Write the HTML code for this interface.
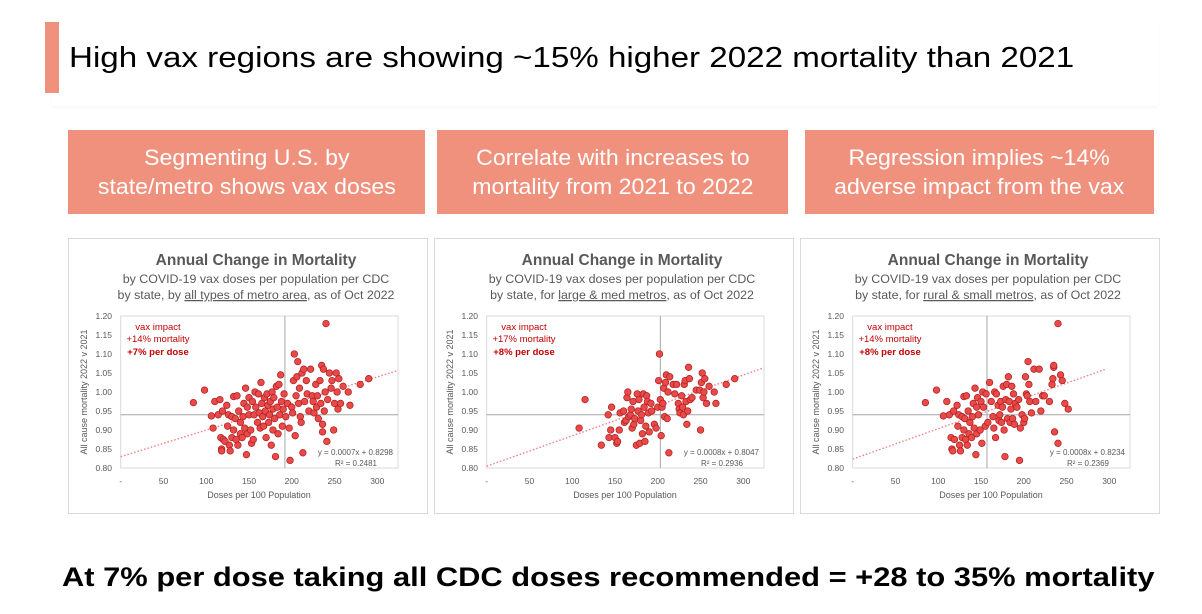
<!DOCTYPE html>
<html><head><meta charset="utf-8">
<style>
html,body{margin:0;padding:0;background:#fff;}
body{width:1202px;height:614px;position:relative;overflow:hidden;font-family:"Liberation Sans",sans-serif;}
.accent{position:absolute;left:45px;top:22px;width:14px;height:71px;background:#EF917C;}
.hdr{position:absolute;left:52px;top:20px;width:1106px;height:86px;box-shadow:0 2px 3px rgba(0,0,0,0.04);}
.title{position:absolute;left:69px;top:42px;font-size:29px;color:#000;white-space:nowrap;transform:scaleX(1.143);transform-origin:0 0;}
.box{position:absolute;top:130px;height:84px;background:#EF917C;color:#fff;text-align:center;display:flex;align-items:center;justify-content:center;}
.box span{display:inline-block;font-size:22px;line-height:29px;transform:scaleX(1.05);white-space:nowrap;}
.bottom{position:absolute;left:62px;top:562px;font-size:27px;color:#000;white-space:nowrap;font-weight:bold;transform:scaleX(1.143);transform-origin:0 0;}
svg{position:absolute;left:0;top:0;}
</style></head>
<body>
<div class="hdr"></div>
<div class="accent"></div>
<div class="title">High vax regions are showing ~15% higher 2022 mortality than 2021</div>
<div class="box" style="left:68px;width:357px;"><span>Segmenting U.S. by<br>state/metro shows vax doses</span></div>
<div class="box" style="left:437px;width:351px;"><span>Correlate with increases to<br>mortality from 2021 to 2022</span></div>
<div class="box" style="left:805px;width:349px;"><span>Regression implies ~14%<br>adverse impact from the vax</span></div>
<div class="bottom">At 7% per dose taking all CDC doses recommended = +28 to 35% mortality</div>
<svg id="charts" width="1202" height="614"></svg>
<script>
const yTicks = [0.80,0.85,0.90,0.95,1.00,1.05,1.10,1.15,1.20];
const yTickLabels = ["0.80","0.85","0.90","0.95","1.00","1.05","1.10","1.15","1.20"];
const xTicks = [0,50,100,150,200,250,300];
const xTickLabels = ["-","50","100","150","200","250","300"];
const subtitles2 = ["all types of metro area","large & med metros","rural & small metros"];
const impacts = ["+14% mortality","+17% mortality","+14% mortality"];
const perDose = ["+7% per dose","+8% per dose","+8% per dose"];
const equations = ["y = 0.0007x + 0.8298","y = 0.0008x + 0.8047","y = 0.0008x + 0.8234"];
const rSquared = ["0.2481","0.2936","0.2369"];
const slopes = [0.0007,0.0008,0.0008];
const intercepts = [0.8298,0.8047,0.8234];
const trendEnd = [324,324,295];
const refX = [192,203,157];
const refY = [0.94,0.94,0.94];
const chart1X = [85,98,106,108,110,114,116,117,118,118,119,120,122,124,125,126,127,128,130,130,132,132,134,135,136,137,138,140,140,142,143,144,145,146,147,148,148,150,150,152,153,154,155,156,157,158,160,161,162,163,164,165,166,167,168,169,170,171,172,173,174,175,176,177,178,178,179,180,181,182,183,184,185,186,187,188,189,190,191,193,195,197,198,200,201,202,203,204,205,206,207,208,209,210,211,212,213,214,215,217,218,220,222,224,225,226,228,229,230,231,233,234,235,236,236,237,238,239,240,241,242,244,246,247,249,250,252,253,254,255,257,260,266,268,280,290];
const chart1Y = [0.972,1.005,0.937,0.905,0.975,0.94,0.98,0.88,0.85,0.845,0.95,0.875,0.87,0.965,0.91,0.94,0.86,0.845,0.88,0.935,0.9,0.988,0.93,0.875,0.99,0.86,0.95,0.89,0.92,0.88,0.935,0.97,0.905,1.01,0.835,0.96,0.89,0.985,0.94,0.9,0.865,0.975,0.875,0.94,1.0,0.96,0.92,0.995,0.945,0.905,1.025,0.97,0.935,0.91,0.985,0.95,0.88,0.995,0.965,0.92,0.94,0.975,0.86,1.0,0.9,0.955,0.985,0.93,0.83,1.015,0.96,0.89,1.02,0.94,1.045,0.975,0.91,0.955,0.995,0.935,0.97,0.905,0.82,0.96,0.945,1.03,1.1,0.885,0.99,1.04,1.08,0.97,1.01,0.935,0.92,1.05,0.84,1.06,0.975,1.03,0.995,0.95,1.06,0.99,0.975,0.945,1.02,0.96,0.99,0.93,1.03,0.97,1.07,0.895,0.915,1.06,0.95,1.0,1.18,0.87,0.98,1.05,1.01,1.03,0.9,0.97,1.05,1.0,0.955,1.035,0.97,1.015,1.0,0.965,1.02,1.035];
const chart2X = [108,115,134,142,143,145,146,150,152,153,155,156,160,161,163,164,165,166,168,169,170,171,172,173,175,176,177,178,179,180,181,182,183,184,185,186,187,188,189,190,192,193,196,198,200,201,202,203,204,205,206,207,208,209,210,211,212,213,214,218,220,222,224,225,226,228,229,230,231,232,233,234,235,236,237,238,240,245,249,250,251,252,253,254,255,257,260,266,268,280,290];
const chart2Y = [0.905,0.98,0.86,0.94,0.88,0.9,0.96,0.88,0.865,0.87,0.9,0.945,0.95,0.92,0.925,0.985,1.0,0.935,0.94,0.955,0.905,0.975,0.915,0.93,0.86,0.995,0.95,0.98,0.865,0.925,0.94,0.89,0.995,0.96,0.87,0.91,0.99,0.975,0.945,0.895,0.97,0.95,0.915,0.905,0.96,1.03,1.1,0.98,0.885,0.96,0.97,1.01,0.935,1.025,1.045,0.93,1.0,0.84,1.04,1.02,0.995,1.02,0.97,0.955,0.945,0.99,0.96,0.94,1.02,1.03,0.975,0.915,0.95,1.065,1.035,0.98,0.985,1.005,1.005,0.9,1.025,1.05,0.985,1.0,1.035,0.97,1.015,1.0,0.97,1.02,1.035];
const chart3X = [85,98,106,110,113,115,116,117,118,119,122,123,124,125,126,128,128,130,130,131,132,133,134,135,136,137,139,140,141,142,143,144,145,145,146,147,149,150,151,152,153,155,156,158,160,162,164,165,166,167,168,170,171,172,173,174,175,176,177,178,179,180,181,182,183,184,185,186,187,188,189,190,192,194,195,196,198,200,201,202,203,204,205,206,207,209,212,214,218,220,222,224,230,233,234,235,235,236,240,240,243,245,248,252];
const chart3Y = [0.972,1.005,0.937,0.975,0.94,0.88,0.85,0.845,0.95,0.875,0.965,0.91,0.94,0.86,0.845,0.88,0.935,0.9,0.988,0.93,0.875,0.99,0.86,0.95,0.89,0.92,0.88,0.935,0.97,0.905,1.01,0.835,0.96,0.89,0.985,0.94,0.9,0.975,0.865,1.0,0.96,0.91,0.995,0.92,1.025,0.975,0.935,0.905,1.0,0.88,0.995,0.965,0.925,0.94,0.975,0.92,0.96,1.015,0.9,0.83,0.98,1.02,0.93,1.04,0.975,0.92,0.955,1.015,0.93,0.995,0.915,0.97,0.96,0.98,0.82,0.905,0.94,0.92,0.93,1.04,0.995,0.99,1.08,1.02,0.975,0.945,1.06,0.975,1.06,0.95,0.99,0.99,0.975,1.02,1.035,1.065,1.07,0.895,1.18,0.865,1.045,1.03,0.97,0.955];
const allX = [chart1X, chart2X, chart3X];
const allY = [chart1Y, chart2Y, chart3Y];
const panelLeft = [68,434,800];

const NS = "http://www.w3.org/2000/svg";
const svg = document.getElementById('charts');
function mk(tag, attrs, parent, text){
  const e = document.createElementNS(NS, tag);
  for (const k in attrs) e.setAttribute(k, attrs[k]);
  if (text !== undefined) e.textContent = text;
  (parent||svg).appendChild(e);
  return e;
}
for (let c=0;c<3;c++){
  const L = panelLeft[c];
  const g = mk('g',{});
  
  
  const px0 = L+52.7, px1 = L+330, py0 = 316, py1 = 468;
  const xs = v => px0 + v*(377.3-120.7)/300;
  const ys = v => py1 - (v-0.80)*(py1-py0)/0.40;
  const panel = mk('rect',{x:L+0.5,y:238.5,width:359,height:275,fill:'#fff',stroke:'#d9d9d9','stroke-width':1},g);
  
  
  const t = mk('text',{x:L+188,y:265,'text-anchor':'middle','font-size':'15.5',fill:'#595959','font-weight':'bold'},g,'Annual Change in Mortality');
  
  
  const s1 = mk('text',{x:L+188,y:283,'text-anchor':'middle','font-size':'12.4',fill:'#595959'},g,'by COVID-19 vax doses per population per CDC');
  
  
  const s2 = mk('text',{x:L+188,y:299,'text-anchor':'middle','font-size':'12.4',fill:'#595959'},g);
  
  
  mk('tspan',{},s2, c==0?'by state, by ':'by state, for ');
  mk('tspan',{'text-decoration':'underline'},s2, subtitles2[c]);
  mk('tspan',{},s2, ', as of Oct 2022');
  const pa = mk('rect',{x:px0,y:py0,width:px1-px0,height:py1-py0,fill:'none',stroke:'#d9d9d9','stroke-width':1},g);
  
  
  for (let i=0;i<yTicks.length;i++){
    const yl = mk('text',{x:L+44,y:ys(yTicks[i])+3,'text-anchor':'end','font-size':'8.5',fill:'#595959'},g,yTickLabels[i]);
    
    
  }
  for (let i=0;i<xTicks.length;i++){
    const xl = mk('text',{x:xs(xTicks[i]),y:484,'text-anchor':'middle','font-size':'8.5',fill:'#595959'},g,xTickLabels[i]);
    
    
  }
  const xt = mk('text',{x:L+191,y:498,'text-anchor':'middle','font-size':'9',fill:'#595959'},g,'Doses per 100 Population');
  
  
  const yt = mk('text',{x:0,y:0,'text-anchor':'middle','font-size':'9',fill:'#595959',transform:`translate(${L+19},392) rotate(-90)`},g,'All cause mortality 2022 v 2021');
  
  
  const vl = mk('line',{x1:xs(refX[c]),x2:xs(refX[c]),y1:py0,y2:py1,stroke:'#a6a6a6','stroke-width':1},g);
  
  
  const hl = mk('line',{x1:px0,x2:px1,y1:ys(refY[c]),y2:ys(refY[c]),stroke:'#a6a6a6','stroke-width':1},g);
  
  
  const tl = mk('line',{x1:xs(0),y1:ys(intercepts[c]),x2:xs(trendEnd[c]),y2:ys(intercepts[c]+slopes[c]*trendEnd[c]),stroke:'#f08080','stroke-width':1.4,'stroke-dasharray':'1.5 2'},g);
  
  
  const X = allX[c], Y = allY[c];
  for (let i=0;i<X.length;i++){
    const p = mk('circle',{cx:xs(X[i]),cy:ys(Y[i]),r:3.3,fill:'#E84A4A',stroke:'#B01C1C','stroke-width':0.7},g);
    
    
  }
  const a1 = mk('text',{x:L+90,y:330,'text-anchor':'middle','font-size':'9.5',fill:'#C00000'},g,'vax impact');
  
  
  const a2 = mk('text',{x:L+90,y:342,'text-anchor':'middle','font-size':'9.5',fill:'#C00000'},g,impacts[c]);
  
  
  const a3 = mk('text',{x:L+90,y:355,'text-anchor':'middle','font-size':'9.5',fill:'#C00000','font-weight':'bold'},g,perDose[c]);
  
  
  const e1 = mk('text',{x:L+325,y:455,'text-anchor':'end','font-size':'8',fill:'#595959'},g,equations[c]);
  
  
  const e2 = mk('text',{x:L+309,y:466,'text-anchor':'end','font-size':'8',fill:'#595959'},g,'R\u00B2 = '+rSquared[c]);
  
  
}
</script>
</body></html>
